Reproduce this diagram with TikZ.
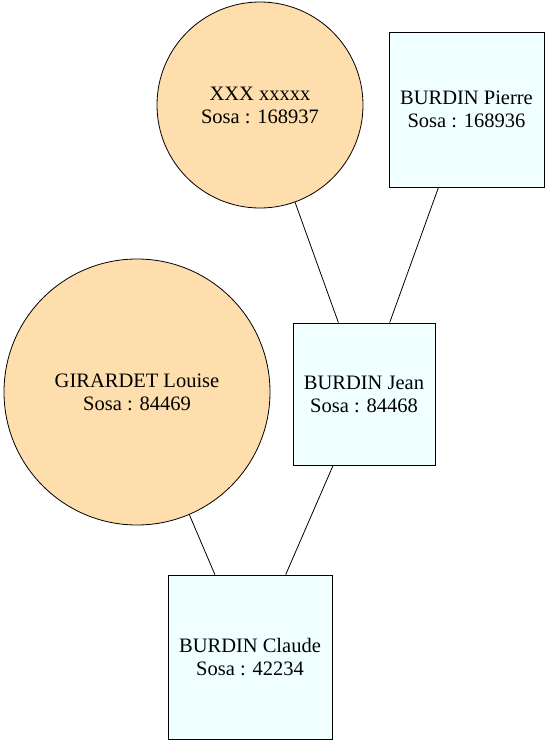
\documentclass[tikz,border=0pt]{standalone}
\usepackage{fontspec}
\setmainfont{Liberation Serif}
\definecolor{peach}{HTML}{FFDEAD}
\definecolor{azurebox}{HTML}{F0FFFF}
\begin{document}
\begin{tikzpicture}[x=1pt,y=-1pt,
  every node/.style={font=\fontsize{20.5}{23}\selectfont, align=center, inner sep=0pt},
  person/.style={draw=black, fill=peach, circle, line width=0.8pt},
  man/.style={draw=black, fill=azurebox, rectangle, line width=0.8pt},
  link/.style={draw=black, line width=0.8pt}]
\useasboundingbox (0,0) rectangle (550,745);
\node[person, minimum size=206pt] (xxx) at (260,105) {XXX xxxxx\\Sosa : 168937};
\node[man, minimum width=155pt, minimum height=155pt] (pierre) at (466.5,109.5) {BURDIN Pierre\\Sosa : 168936};
\node[person, minimum size=266pt] (louise) at (137,392) {GIRARDET Louise\\Sosa : 84469};
\node[man, minimum width=142pt, minimum height=142pt] (jean) at (364,394) {BURDIN Jean\\Sosa : 84468};
\node[man, minimum width=164pt, minimum height=164pt] (claude) at (250,657) {BURDIN Claude\\Sosa : 42234};
\draw[link] (xxx) -- (jean);
\draw[link] (pierre) -- (jean);
\draw[link] (louise) -- (claude);
\draw[link] (jean) -- (claude);
\end{tikzpicture}
\end{document}
